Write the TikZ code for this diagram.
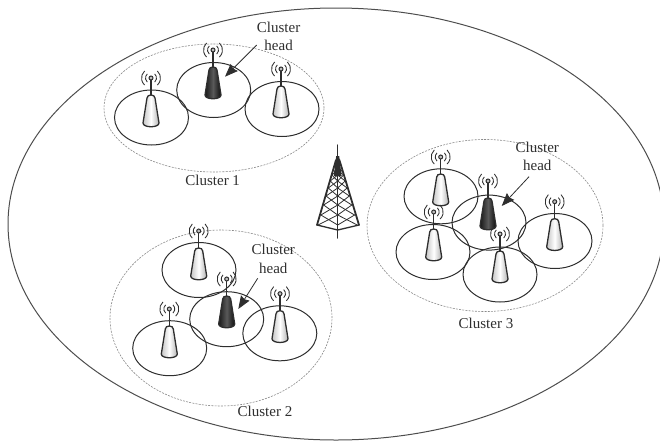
\documentclass[tikz,border=0pt]{standalone}
\usepackage{fontspec}
\setmainfont{Liberation Serif}
\usetikzlibrary{arrows.meta}
\definecolor{ink}{HTML}{2E2E2E}
\definecolor{dashc}{HTML}{8A8A8A}
\tikzset{
  x=1pt,y=-1pt,
  world/.style={draw=ink!85,line width=1pt},
  clusterzone/.style={draw=dashc,line width=0.6pt,dash pattern=on 2pt off 1.2pt},
  cell/.style={draw=ink,line width=1pt},
  lbl/.style={inner sep=0pt,text=ink,font=\fontsize{15}{18.5}\selectfont,align=center},
  pointer/.style={draw=ink,line width=0.8pt,-{Stealth[length=13pt,width=10pt,inset=1.5pt]}},
  waves/.style={draw=ink,line width=0.85pt},
  bodyshape/.style={draw=ink,line width=1.3pt},
  pics/mast/.style={code={
    \draw[ink,line width=1.3pt] (0,0) -- (0,18);
    \filldraw[draw=ink,fill=gray!50,line width=1pt] (0,0) circle (2pt);
    \foreach \r in {5.5,9.5}{
      \draw[waves] (48:\r pt) arc[start angle=48,end angle=-48,radius=\r pt];
      \draw[waves] (132:\r pt) arc[start angle=132,end angle=228,radius=\r pt];
    }
  }},
  pics/plainant/.style={code={
    \pic at (0,0) {mast};
    \draw[bodyshape,left color=gray!45,right color=gray!60,middle color=white]
      (-4,20) -- (-8,45) .. controls (-8,50) and (8,50) .. (8,45) -- (4,20) .. controls (4,16) and (-4,16) .. (-4,20) -- cycle;
  }},
  pics/headant/.style={code={
    \pic at (0,0) {mast};
    \draw[bodyshape,left color=black!90,right color=black!95,middle color=gray!70!black]
      (-4,20) -- (-8,45) .. controls (-8,50) and (8,50) .. (8,45) -- (4,20) .. controls (4,16) and (-4,16) .. (-4,20) -- cycle;
  }},
}
\begin{document}
\begin{tikzpicture}
\useasboundingbox (0,0) rectangle (660,442);
% surrounding area
\draw[world] (336,224) ellipse [x radius=328pt,y radius=216pt];
% cluster zones
\draw[clusterzone] (214,108) ellipse [x radius=110pt,y radius=64pt];
\draw[clusterzone] (221,318) ellipse [x radius=111pt,y radius=88pt];
\draw[clusterzone] (485,225.5) ellipse [x radius=118pt,y radius=86pt];
% cells
\foreach \cx/\cy in {151.5/117.5,213.7/90,282/109,
  199/270,226.7/319.2,169.7/348.2,279.8/333.3,
  441/196.3,489/222.6,433/252,500/274.5,555/241}{
  \draw[cell] (\cx,\cy) ellipse [x radius=37pt,y radius=27.5pt];
}
% antennas
\foreach \ax/\ay in {151/78,281/69,198.7/231,169.3/309,280/293.7,440.7/157,433.7/212,500/234,554.7/201.7}{
  \pic at (\ax,\ay) {plainant};
}
\foreach \ax/\ay in {213/50,226.7/279,488/181}{
  \pic at (\ax,\ay) {headant};
}
% tower
\begin{scope}[draw=ink,line cap=round]
  \draw[line width=1.5pt] (337.7,145) -- (337.7,238);
  \fill[ink] (336.2,156) -- (339.2,156) -- (341.6,176) -- (333.8,176) -- cycle;
  \draw[line width=1.8pt] (336,160) -- (317,225);
  \draw[line width=1.8pt] (339.4,160) -- (359,225);
  \draw[line width=1.3pt] (317,225) -- (337.7,230) -- (359,225);
  \foreach \a/\b in {170/175,175/181,181/188,188/196,196/205,205/215,215/225}{
    \pgfmathsetmacro{\wa}{1.7+(\a-160)*0.2754}
    \pgfmathsetmacro{\wb}{1.7+(\b-160)*0.2754}
    \pgfmathsetmacro{\xla}{337.7-\wa}
    \pgfmathsetmacro{\xlb}{337.7-\wb}
    \pgfmathsetmacro{\xra}{337.7+\wa}
    \pgfmathsetmacro{\xrb}{337.7+\wb}
    \draw[line width=0.8pt] (\xla,\a) -- (337.7,\b) -- (\xra,\a);
    \draw[line width=0.8pt] (\xlb,\b) -- (337.7,\a) -- (\xrb,\b);
  }
\end{scope}
% labels
\node[lbl] (c1) at (212.7,180) {Cluster 1};
\node[lbl] (c2) at (265,411.7) {Cluster 2};
\node[lbl] (c3) at (486,323) {Cluster 3};
\node[lbl] (h1) at (278.6,36.5) {Cluster\\head};
\node[lbl] (h2) at (273.3,259) {Cluster\\head};
\node[lbl] (h3) at (537.3,156.3) {Cluster\\head};
% pointers
\coordinate (t1) at (225,76.7);
\coordinate (t2) at (238.3,309);
\coordinate (t3) at (501.7,206);
\coordinate (s1) at (256.7,45);
\coordinate (s2) at (257.7,278.3);
\coordinate (s3) at (529,176.7);
\draw[pointer] (s1) -- (t1);
\draw[pointer] (s2) -- (t2);
\draw[pointer] (s3) -- (t3);
\end{tikzpicture}
\end{document}
